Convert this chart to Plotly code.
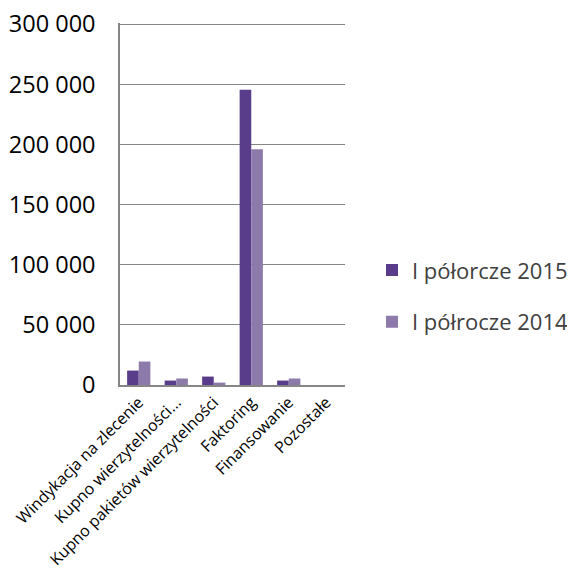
import plotly.graph_objects as go

categories = ["Windykacja na zlecenie", "Kupno wierzytelności...", "Kupno pakietów wierzytelności",
              "Faktoring", "Finansowanie", "Pozostałe"]
series_2015 = [12000, 3700, 7000, 245500, 3700, 0]
series_2014 = [19500, 5400, 2000, 196000, 5400, 0]
names = ["I półorcze 2015", "I półrocze 2014"]
y_ticks = [0, 50000, 100000, 150000, 200000, 250000, 300000]

fig = go.Figure()
fig.add_trace(go.Bar(x=categories, y=series_2015, name=names[0], legendgroup="a",
                     marker=dict(color="#5a3d8a", line=dict(color="#4a2f75", width=0))))
fig.add_trace(go.Bar(x=categories, y=series_2014, name=names[1], legendgroup="b",
                     marker=dict(color="#8c7aab", line=dict(color="#75648f", width=0))))

fig.update_layout(
    width=575, height=572,
    margin=dict(l=112, r=238, t=15, b=195, autoexpand=False),
    paper_bgcolor="white", plot_bgcolor="white",
    separators=", ",
    barmode="group", bargap=0.38, bargroupgap=0,
    font=dict(family="Open Sans", color="#000000"),
    legend=dict(x=1.12, y=0.245, xanchor="left", yanchor="middle",
                font=dict(size=22, color="#404040"), tracegroupgap=20,
                traceorder="grouped", bgcolor="rgba(0,0,0,0)",
                itemwidth=30),
    xaxis=dict(tickangle=-45, tickfont=dict(size=16, color="#000000"),
               showline=True, linecolor="#868686", linewidth=1.5, ticks="",
               showgrid=False, automargin=False),
    yaxis=dict(range=[0, 301000], tickvals=y_ticks, tickformat=",d",
               tickfont=dict(size=23.5, color="#000000"),
               showgrid=True, gridcolor="#868686", gridwidth=1.2,
               showline=True, linecolor="#868686", linewidth=1.5, ticks="",
               zeroline=False, ticklabelstandoff=18, automargin=False,
               ticklabeloverflow="allow"),
)

fig.write_html("out.html")
